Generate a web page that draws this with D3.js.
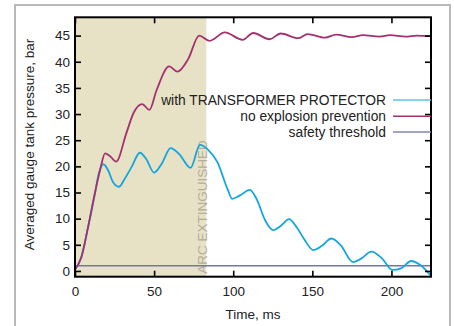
<!DOCTYPE html>
<html>
<head>
<meta charset="utf-8">
<script src="https://cdn.jsdelivr.net/npm/d3@7"></script>
<style>
  body { margin: 0; background: #fff; }
  svg { display: block; font-family: "Liberation Sans", Arial, sans-serif; }
</style>
</head>
<body>
<div id="chart"></div>
<script>
// Time, ms / pressure, bar
const protectorT = [0, 4, 8, 12.5, 15, 17.9, 21, 24, 27.8, 31, 35.8, 41, 45, 50, 55, 60.4, 66, 73, 79, 84, 90, 96.6, 99.3, 104, 110.5, 115, 120, 125.2, 130, 135.3, 140, 145, 150.5, 156, 162, 168, 175.7, 181, 187.3, 194, 200.5, 206, 212.5, 218, 225];
const protectorV = [0.3, 2.6, 8, 14.6, 18.6, 20.4, 19.2, 17, 16.1, 17.4, 19.9, 22.6, 21.4, 18.8, 20.6, 23.5, 22.3, 19.7, 24.1, 23.2, 20.8, 15.5, 13.8, 14.4, 15.5, 13.6, 9.8, 7.8, 8.6, 9.9, 8.4, 6, 4.0, 4.8, 6.2, 4.9, 1.7, 2.4, 3.7, 2.4, 0.2, 0.5, 1.9, 1.2, -0.9];

const noPreventionT = [0, 4, 8, 12.5, 16, 19, 22, 26, 32.5, 37, 42.5, 47, 51.6, 59.5, 64.8, 71.5, 78.5, 85, 94.7, 106, 112.6, 123, 130, 141, 147, 158, 165, 175, 182, 192.5, 199, 209, 216, 225];
const noPreventionV = [0.3, 2.6, 8, 14.8, 19.5, 22.5, 22, 20.9, 26.4, 30.2, 31.9, 30.8, 34.6, 39.1, 38.1, 40.5, 45, 44.0, 45.6, 44.2, 45.5, 44.3, 45.4, 44.5, 45.3, 44.6, 45.2, 44.7, 45.1, 44.8, 45.1, 44.8, 45.0, 44.9];

const thresholdT = [0, 225];
const thresholdV = [1, 1];

const arcEnd = 83; // ms, shaded "ARC EXTINGUISHED" region
const xTicks = [0, 50, 100, 150, 200];
const yTicks = [0, 5, 10, 15, 20, 25, 30, 35, 40, 45];

const seriesNames = ["with TRANSFORMER PROTECTOR", "no explosion prevention", "safety threshold"];
const seriesColors = ["#13a6dc", "#a3306f", "#7476a6"];
const legendColors = ["#5cc3e8", "#a3306f", "#8486b2"];

const width = 454, height = 326;
const plotLeft = 75, plotRight = 431, plotTop = 17.3, plotBottom = 276.7;

const svg = d3.select("#chart").append("svg")
  .attr("width", width)
  .attr("height", height);

// outer frame
svg.append("rect")
  .attr("x", 15).attr("y", 5)
  .attr("width", 435).attr("height", 340)
  .attr("fill", "none")
  .attr("stroke", "#b9b9b9")
  .attr("stroke-width", 2);

const x = d3.scaleLinear().domain([0, 225]).range([plotLeft, plotRight]);
const y = d3.scaleLinear().domain([-1.1, 48.5]).range([plotBottom, plotTop]);

// shaded arc period
svg.append("rect")
  .attr("x", x(0)).attr("y", plotTop)
  .attr("width", x(arcEnd) - x(0))
  .attr("height", plotBottom - plotTop)
  .attr("fill", "#e7e1c5");

svg.append("text")
  .attr("transform", `translate(${x(arcEnd) + 1},${plotBottom - 3}) rotate(-90)`)
  .attr("font-size", "13.5px")
  .attr("fill", "#b3ae9a")
  .text("ARC EXTINGUISHED");

const line = d3.line()
  .x(d => x(d[0]))
  .y(d => y(d[1]))
  .curve(d3.curveMonotoneX);

svg.append("clipPath").attr("id", "plotclip")
  .append("rect")
  .attr("x", plotLeft).attr("y", plotTop)
  .attr("width", plotRight - plotLeft).attr("height", plotBottom - plotTop);

const plot = svg.append("g").attr("clip-path", "url(#plotclip)");

const series = [
  [thresholdT, thresholdV, 2],
  [protectorT, protectorV, 0],
  [noPreventionT, noPreventionV, 1]
];
series.forEach(([ts, vs, ci]) => {
  plot.append("path")
    .datum(ts.map((t, i) => [t, vs[i]]))
    .attr("fill", "none")
    .attr("stroke", seriesColors[ci])
    .attr("stroke-width", ci === 2 ? 1.6 : 1.8)
    .attr("stroke-linejoin", "round")
    .attr("d", line);
});

// axes with inward ticks
const styleAxis = g => {
  g.select(".domain").remove();
  g.selectAll(".tick line").attr("stroke", "#000").attr("stroke-width", 1.6);
  g.selectAll(".tick text").attr("font-size", "13.5px").attr("fill", "#222")
    .attr("font-family", "Liberation Sans, Arial, sans-serif");
};

svg.append("g")
  .attr("transform", `translate(0,${plotBottom})`)
  .call(d3.axisBottom(x).tickValues(xTicks).tickSize(-6).tickPadding(10))
  .call(styleAxis);

svg.append("g")
  .attr("transform", `translate(0,${plotTop})`)
  .call(d3.axisTop(x).tickValues(xTicks).tickSize(-6).tickFormat(""))
  .call(styleAxis);

svg.append("g")
  .attr("transform", `translate(${plotLeft},0)`)
  .call(d3.axisLeft(y).tickValues(yTicks).tickSize(-6).tickPadding(5))
  .call(styleAxis);

svg.append("g")
  .attr("transform", `translate(${plotRight},0)`)
  .call(d3.axisRight(y).tickValues(yTicks).tickSize(-6).tickFormat(""))
  .call(styleAxis);

// plot border
svg.append("rect")
  .attr("x", plotLeft).attr("y", plotTop)
  .attr("width", plotRight - plotLeft).attr("height", plotBottom - plotTop)
  .attr("fill", "none")
  .attr("stroke", "#000")
  .attr("stroke-width", 2);

// legend
const legendY = [100, 116.3, 132];
seriesNames.forEach((name, i) => {
  svg.append("text")
    .attr("x", 386).attr("y", legendY[i] + 4.9)
    .attr("text-anchor", "end")
    .attr("font-size", "13.8px")
    .attr("fill", "#222")
    .text(name);
  svg.append("line")
    .attr("x1", 393).attr("x2", plotRight)
    .attr("y1", legendY[i]).attr("y2", legendY[i])
    .attr("stroke", legendColors[i])
    .attr("stroke-width", 1.6);
});

// axis titles
svg.append("text")
  .attr("x", (plotLeft + plotRight) / 2).attr("y", 318.5)
  .attr("text-anchor", "middle")
  .attr("font-size", "13.5px")
  .attr("fill", "#222")
  .text("Time, ms");

svg.append("text")
  .attr("transform", "translate(33.5,144.5) rotate(-90)")
  .attr("text-anchor", "middle")
  .attr("font-size", "13.5px")
  .attr("fill", "#222")
  .text("Averaged gauge tank pressure, bar");
</script>
</body>
</html>
